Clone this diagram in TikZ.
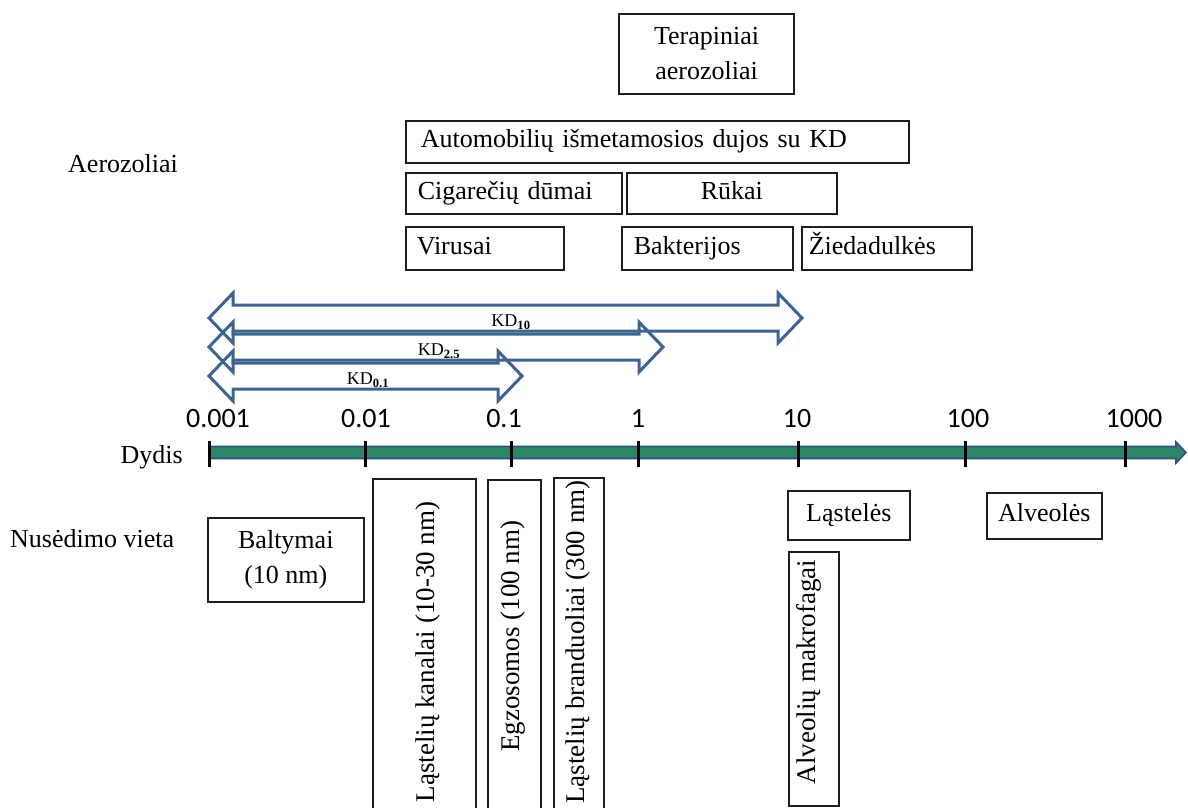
\documentclass[tikz,border=0pt]{standalone}
\usepackage{fontspec}
\setmainfont{Liberation Serif}
\newfontfamily\axisfont{Carlito}
\definecolor{kdblue}{RGB}{60,100,145}
\definecolor{axisgreen}{RGB}{44,135,106}
\definecolor{axisblue}{RGB}{45,80,130}
\definecolor{boxline}{RGB}{30,30,30}

% hollow double-headed range arrow: #1 left tip x, #2 right tip x, #3 centre y
\newcommand\rangearrow[3]{%
  \draw[kdarrow] (#1,#3) -- (#1+24,#3-25) -- (#1+24,#3-13) -- (#2-24,#3-13)
    -- (#2-24,#3-25) -- (#2,#3) -- (#2-24,#3+25) -- (#2-24,#3+13)
    -- (#1+24,#3+13) -- (#1+24,#3+25) -- cycle;}

\begin{document}
\begin{tikzpicture}[x=1pt,y=-1pt,
  every node/.style={font=\fontsize{26}{35}\selectfont},
  box/.style={draw=boxline, line width=1.6pt, inner sep=0pt, anchor=north west,
    text height=18pt, text depth=6pt},
  lbox/.style={box, align=left},
  vtext/.style={rotate=90, inner sep=0pt, font=\fontsize{27}{35}\selectfont},
  kdarrow/.style={draw=kdblue, line width=3pt},
  kdlabel/.style={font=\fontsize{18}{20}\selectfont, inner sep=0pt},
  ticklabel/.style={font=\axisfont\fontsize{28}{30}\selectfont, anchor=base, inner sep=0pt},
  tickmark/.style={line width=3pt, black},
  sidelabel/.style={inner sep=0pt}]
\useasboundingbox (0,0) rectangle (1188,808);
\clip (0,0) rectangle (1188,808);

% ---- aerosol sources ----
\node[sidelabel, anchor=base west] (aero) at (68,172) {Aerozoliai};
\node[box, anchor=center, minimum width=175pt, minimum height=80pt, align=center,
  text height=, text depth=] (ter) at (706.5,54) {Terapiniai\\aerozoliai};
\node[lbox, minimum width=503pt, minimum height=42pt, text width=473pt, inner xsep=15pt]
  (auto) at (405,120) {Automobilių išmetamosios dujos su KD};
\node[lbox, minimum width=216pt, minimum height=41pt, text width=192pt, inner xsep=12pt]
  (cig) at (405,172) {Cigarečių dūmai};
\node[box, minimum width=210pt, minimum height=41pt, align=center] (ruk) at (626,172) {Rūkai};
\node[lbox, minimum width=158pt, minimum height=43pt, text width=136pt, inner xsep=11pt]
  (vir) at (405,226) {Virusai};
\node[lbox, minimum width=171pt, minimum height=43pt, text width=147pt, inner xsep=12pt]
  (bak) at (621,226) {Bakterijos};
\node[lbox, minimum width=170pt, minimum height=43pt, text width=156pt, inner xsep=7pt]
  (zied) at (801,226) {Žiedadulkės};

% ---- particle size ranges ----
\rangearrow{209}{802}{318}
\rangearrow{209}{663}{347}
\rangearrow{209}{522}{376}
\node[kdlabel] (kd10) at (511,322) {KD\textsubscript{\textbf{10}}};
\node[kdlabel] (kd25) at (439,351) {KD\textsubscript{\textbf{2.5}}};
\node[kdlabel] (kd01) at (368,380) {KD\textsubscript{\textbf{0.1}}};

% ---- size axis ----
\node[sidelabel, anchor=base east] (dydis) at (183,463) {Dydis};
\draw[fill=axisgreen, draw=axisblue, line width=1.6pt]
  (209,446.5) -- (1176,446.5) -- (1176,442) -- (1186,452.5) -- (1176,463) -- (1176,458.5)
  -- (209,458.5) -- cycle;
\foreach \x/\lx/\t [count=\i] in {209/218/0.001, 365/366/0.01, 511/504/0.1, 638/638/1,
    798/797/10, 965/968/100, 1125/1134/1000} {
  \coordinate (tick\i) at (\x,452.5);
  \draw[tickmark] (\x,441) -- (\x,467);
  \node[ticklabel] (tl\i) at (\lx,427) {\t};
}

% ---- deposition sites ----
\node[sidelabel, anchor=base west] (nus) at (10,547) {Nusėdimo vieta};
\node[box, minimum width=156pt, minimum height=84pt, align=center, text height=, text depth=]
  (balt) at (207,517) {Baltymai\\(10 nm)};
\node[box, minimum width=103pt, minimum height=360pt] (kan) at (372,478) {};
\node[vtext] (kant) at (428,652) {Ląstelių kanalai (10-30 nm)};
\node[box, minimum width=53pt, minimum height=360pt] (egz) at (487,479) {};
\node[vtext] (egzt) at (513.5,636) {Egzosomos (100 nm)};
\node[box, minimum width=50pt, minimum height=360pt] (bra) at (553,477) {};
\node[vtext] (brat) at (578,642) {Ląstelių branduoliai (300 nm)};
\node[box, minimum width=122pt, minimum height=49pt, align=center] (last) at (787,490) {Ląstelės};
\node[box, minimum width=115pt, minimum height=46pt, align=center] (alv) at (986,492) {Alveolės};
\node[box, minimum width=50pt, minimum height=254pt] (mak) at (788,551) {};
\node[vtext] (makt) at (809,672) {Alveolių makrofagai};
\end{tikzpicture}
\end{document}
